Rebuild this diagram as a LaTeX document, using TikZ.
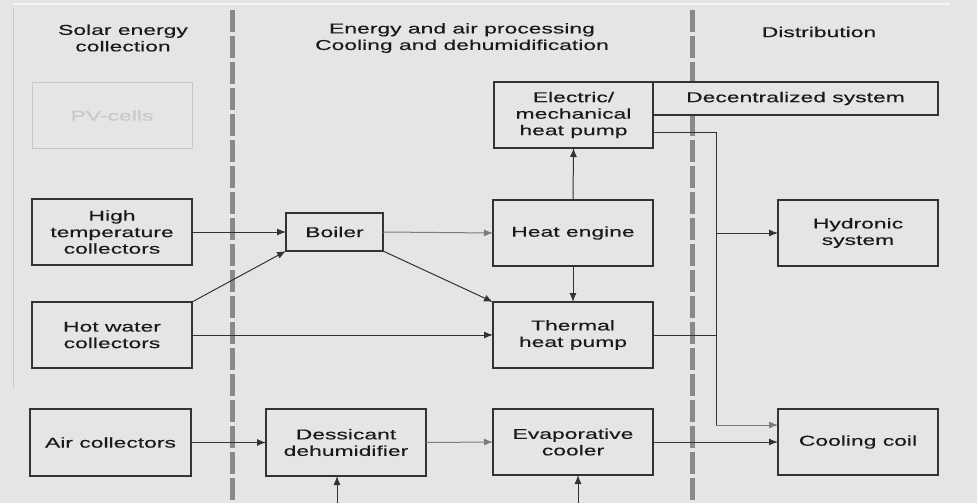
\documentclass[tikz,border=0pt]{standalone}
\usepackage{fontspec}
\setmainfont[FakeStretch=1.6,FakeBold=0.3]{Liberation Sans}
\usetikzlibrary{arrows.meta,calc}
\definecolor{bg}{HTML}{E5E5E5}
\definecolor{boxline}{HTML}{333333}
\definecolor{dashcol}{HTML}{8A8A8A}
\definecolor{faint}{HTML}{C8C8C8}
\definecolor{txt}{HTML}{1A1A1A}
\begin{document}
\begin{tikzpicture}[x=1pt,y=-1pt,
  every node/.style={font=\fontsize{14.3}{16.5}\selectfont, text=txt, align=center},
  blk/.style={draw=boxline, line width=1.4pt, fill=bg, inner sep=0pt, outer sep=0pt, minimum width=160pt, minimum height=66pt},
  hdr/.style={inner sep=0pt},
  conn/.style={draw=boxline, line width=1pt},
  arr/.style={conn, -{Latex[length=9pt,width=7pt]}},
  arrg/.style={draw=dashcol!90!black, line width=1pt, -{Latex[length=9pt,width=7pt]}},
  sep/.style={draw=dashcol, line width=5pt, dash pattern=on 22pt off 4pt}
]
\useasboundingbox (0,0) rectangle (977,503);
\fill[bg] (0,0) rectangle (977,503);
% frame remnants
\draw[faint, line width=1pt] (13,8) -- (13,388);
\draw[white!60!bg, line width=2pt] (13,4) -- (950,4);
% separators
\draw[sep] (232,10) -- (232,503);
\draw[sep] (692,10) -- (692,503);
% headers
\node[hdr] (h1) at (123,38) {Solar energy\\collection};
\node[hdr] (h2) at (462,38) {Energy and air processing\\Cooling and dehumidification};
\node[hdr] (h3) at (819,32) {Distribution};
% boxes
\node[blk, draw=faint, line width=1pt, text=faint] (pv) at (112,115.5) {PV-cells};
\node[blk] (htc) at (112,232) {High\\temperature\\collectors};
\node[blk] (hwc) at (112,335) {Hot water\\collectors};
\node[blk, minimum width=161pt, minimum height=67pt] (air) at (110.5,442.5) {Air collectors};
\node[blk, minimum width=97pt, minimum height=38pt] (boil) at (334.5,232) {Boiler};
\node[blk, minimum width=159pt] (emhp) at (573.5,115) {Electric/\\mechanical\\heat pump};
\node[blk, minimum width=285pt, minimum height=33pt] (dec) at (795.5,98.5) {Decentralized system};
\node[blk] (he) at (573,233) {Heat engine};
\node[blk] (thp) at (573,335) {Thermal\\heat pump};
\node[blk, minimum height=66pt] (hyd) at (858,233) {Hydronic\\system};
\node[blk, minimum height=67pt] (dess) at (346,442.5) {Dessicant\\dehumidifier};
\node[blk] (evap) at (573,442) {Evaporative\\cooler};
\node[blk] (cc) at (858,442) {Cooling coil};
% junction coordinates
\coordinate (j1) at (716,132);
\coordinate (j2) at (716,425);
\coordinate (d0) at (337,503);
\coordinate (e0) at (578,503);
% connectors
\draw[arr] (htc.east) -- (boil.west);
\draw[arr] (hwc.north east) -- (boil.south west);
\draw[arr] (hwc.east) -- (thp.west);
\draw[arrg] (boil.east) -- (he.west);
\draw[arr] (boil.south east) -- (thp.north west);
\draw[arr] (he.south) -- (thp.north);
\draw[arr] (he.north) -- (emhp.south);
\draw[conn] (j1 -| emhp.east) -- (j1) -- (j2);
\draw[conn] (thp.east) -- (thp.east -| j1);
\draw[arr] (j1 |- hyd.west) -- (hyd.west);
\draw[arrg] (j2) -- (cc.west |- j2);
\draw[arr] (evap.east) -- (cc.west);
\draw[arr] (air.east) -- (dess.west);
\draw[arrg] (dess.east) -- (evap.west);
\draw[arr] (d0) -- (d0 |- dess.south);
\draw[arr] (e0) -- (e0 |- evap.south);
\end{tikzpicture}
\end{document}
